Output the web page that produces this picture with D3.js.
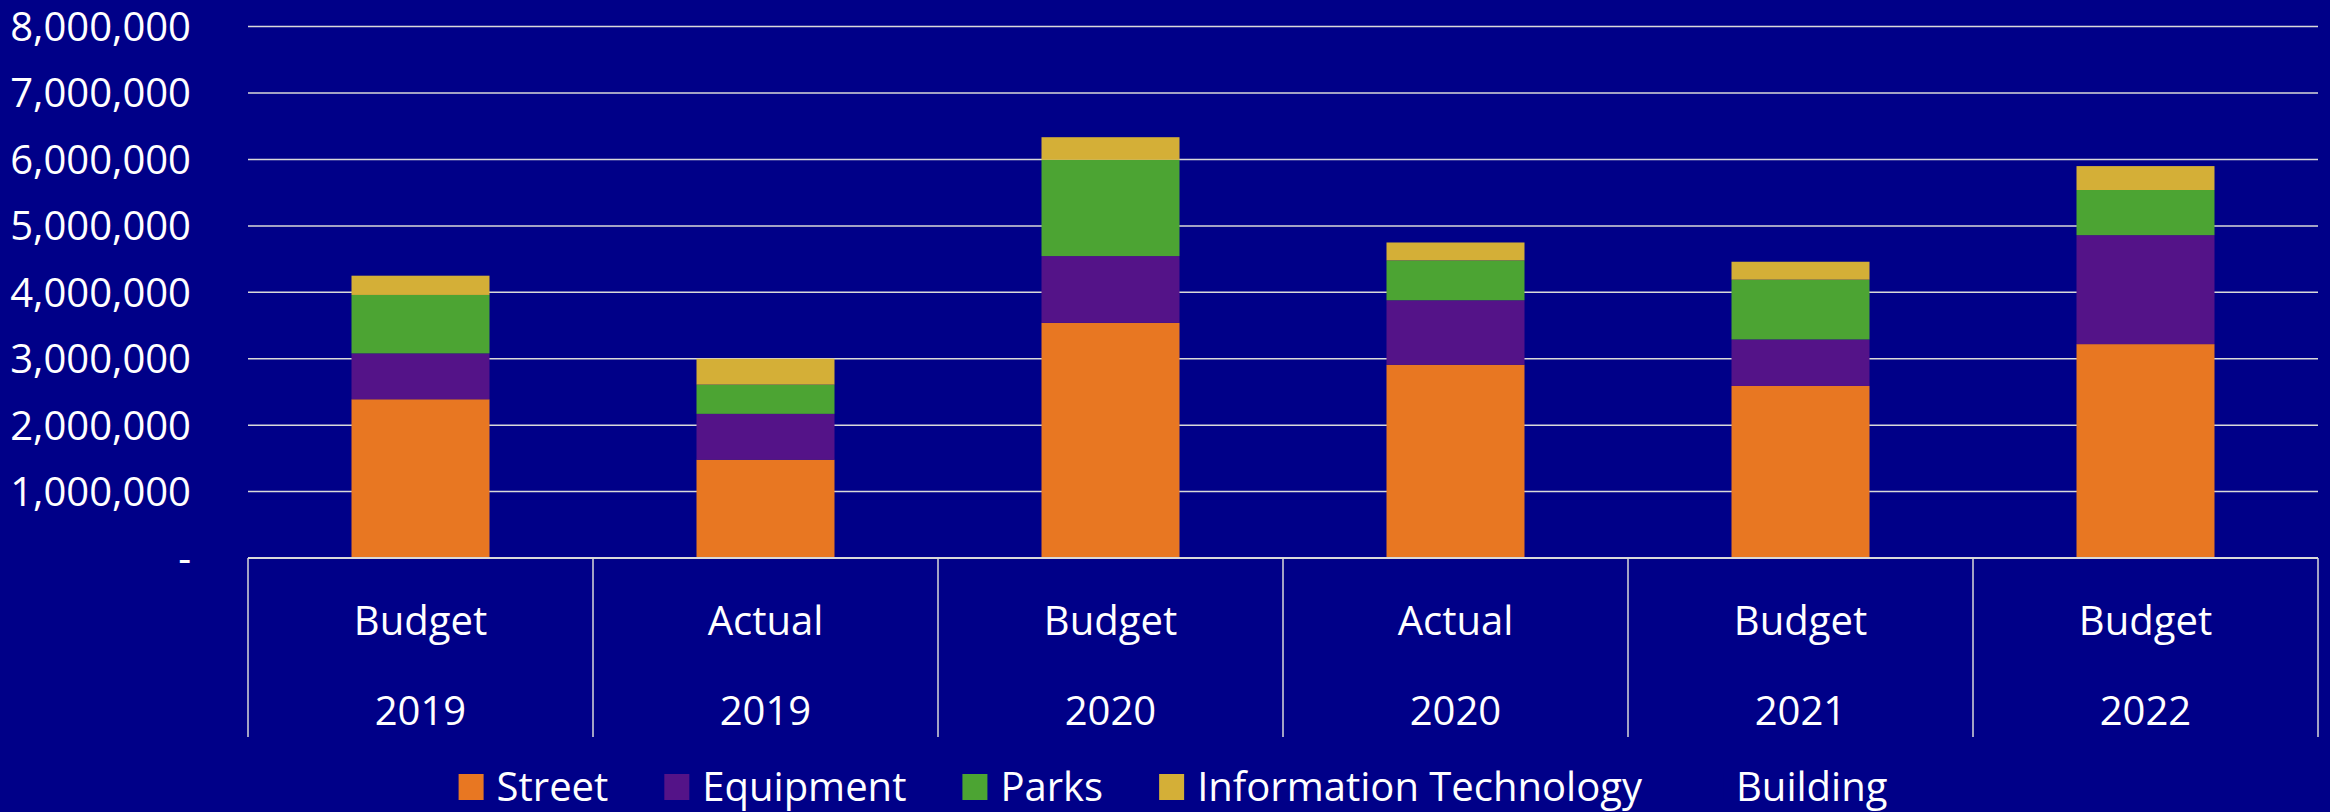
<!DOCTYPE html>
<html>
<head>
<meta charset="utf-8">
<script src="https://cdn.jsdelivr.net/npm/d3@7"></script>
<style>
  html, body { margin: 0; padding: 0; background: #000088; }
  svg { display: block; }
  text { font-family: "Open Sans", "Noto Sans", sans-serif; fill: #ffffff; }
</style>
</head>
<body>
<svg id="chart" width="2330" height="812"></svg>
<script>
// categories (two label rows) and series values
const types = ['Budget', 'Actual', 'Budget', 'Actual', 'Budget', 'Budget'];
const years = ['2019', '2019', '2020', '2020', '2021', '2022'];

const street     = [2390000, 1480000, 3540000, 2910000, 2590000, 3220000];
const equipment  = [ 690000,  690000, 1005000,  970000,  700000, 1640000];
const parks      = [ 880000,  440000, 1450000,  600000,  900000,  680000];
const infoTech   = [ 290000,  390000,  340000,  270000,  270000,  360000];
const building   = [      0,       0,       0,       0,       0,       0];

const seriesNames = ['Street', 'Equipment', 'Parks', 'Information Technology', 'Building'];
const seriesColors = ['#E87722', '#541388', '#4CA433', '#D4AF37', '#000088'];
const yTicks = [0, 1000000, 2000000, 3000000, 4000000, 5000000, 6000000, 7000000, 8000000];

const rows = types.map((t, i) => ({
    idx: i,
    'Street': street[i],
    'Equipment': equipment[i],
    'Parks': parks[i],
    'Information Technology': infoTech[i],
    'Building': building[i]
}));

const svg = d3.select('#chart');
const plotLeft = 248, plotRight = 2318, plotTop = 26.6, plotBottom = 558;

const x = d3.scaleBand()
    .domain(rows.map(d => d.idx))
    .range([plotLeft, plotRight]);

const y = d3.scaleLinear()
    .domain([0, 8000000])
    .range([plotBottom, plotTop]);

const color = d3.scaleOrdinal().domain(seriesNames).range(seriesColors);

// gridlines
svg.append('g')
    .selectAll('line')
    .data(yTicks.slice(1))
    .enter()
    .append('line')
    .attr('x1', plotLeft)
    .attr('x2', plotRight)
    .attr('y1', d => y(d))
    .attr('y2', d => y(d))
    .attr('stroke', '#d9d9d9')
    .attr('stroke-width', 1.5);

// y axis labels
const fmt = d3.format(',');
svg.append('g')
    .selectAll('text')
    .data(yTicks)
    .enter()
    .append('text')
    .attr('x', 191)
    .attr('y', d => y(d))
    .attr('dy', '0.36em')
    .attr('text-anchor', 'end')
    .style('font-size', '40px')
    .text(d => d === 0 ? '-' : fmt(d));

// stacked bars
const stack = d3.stack().keys(seriesNames);
const stacked = stack(rows);
const barW = x.bandwidth() * 0.4;

svg.append('g')
    .selectAll('g')
    .data(stacked)
    .enter()
    .append('g')
    .attr('fill', d => color(d.key))
    .selectAll('rect')
    .data(d => d)
    .enter()
    .append('rect')
    .attr('x', d => x(d.data.idx) + (x.bandwidth() - barW) / 2)
    .attr('width', barW)
    .attr('y', d => y(d[1]))
    .attr('height', d => y(d[0]) - y(d[1]));

// category axis: baseline and dividers
const axis = svg.append('g');
axis.append('line')
    .attr('x1', plotLeft).attr('x2', plotRight)
    .attr('y1', plotBottom).attr('y2', plotBottom)
    .attr('stroke', '#d9d9d9').attr('stroke-width', 2);

const dividers = rows.map(d => x(d.idx)).concat([plotRight]);
axis.selectAll('.div')
    .data(dividers)
    .enter()
    .append('line')
    .attr('class', 'div')
    .attr('x1', d => d).attr('x2', d => d)
    .attr('y1', plotBottom).attr('y2', 737)
    .attr('stroke', '#d9d9d9').attr('stroke-width', 1.5);

axis.selectAll('.t1')
    .data(rows)
    .enter()
    .append('text')
    .attr('class', 't1')
    .attr('x', d => x(d.idx) + x.bandwidth() / 2)
    .attr('y', 635)
    .attr('text-anchor', 'middle')
    .style('font-size', '40px')
    .text(d => types[d.idx]);

axis.selectAll('.t2')
    .data(rows)
    .enter()
    .append('text')
    .attr('class', 't2')
    .attr('x', d => x(d.idx) + x.bandwidth() / 2)
    .attr('y', 725)
    .attr('text-anchor', 'middle')
    .style('font-size', '40px')
    .text(d => years[d.idx]);

// legend
const legend = svg.append('g');
const items = legend.selectAll('g')
    .data(seriesNames)
    .enter()
    .append('g');

items.append('rect')
    .attr('width', 25)
    .attr('height', 26)
    .attr('y', 774)
    .attr('fill', d => color(d));

items.append('text')
    .attr('x', 38)
    .attr('y', 801)
    .style('font-size', '40px')
    .text(d => d);

const widths = [];
items.each(function () {
    const w = d3.select(this).select('text').node().getComputedTextLength();
    widths.push(38 + w);
});
const total = d3.sum(widths) + 56 * (widths.length - 1);
let offset = 1173 - total / 2;
items.attr('transform', (d, i) => {
    const t = 'translate(' + offset + ',0)';
    offset += widths[i] + 56;
    return t;
});
</script>
</body>
</html>
